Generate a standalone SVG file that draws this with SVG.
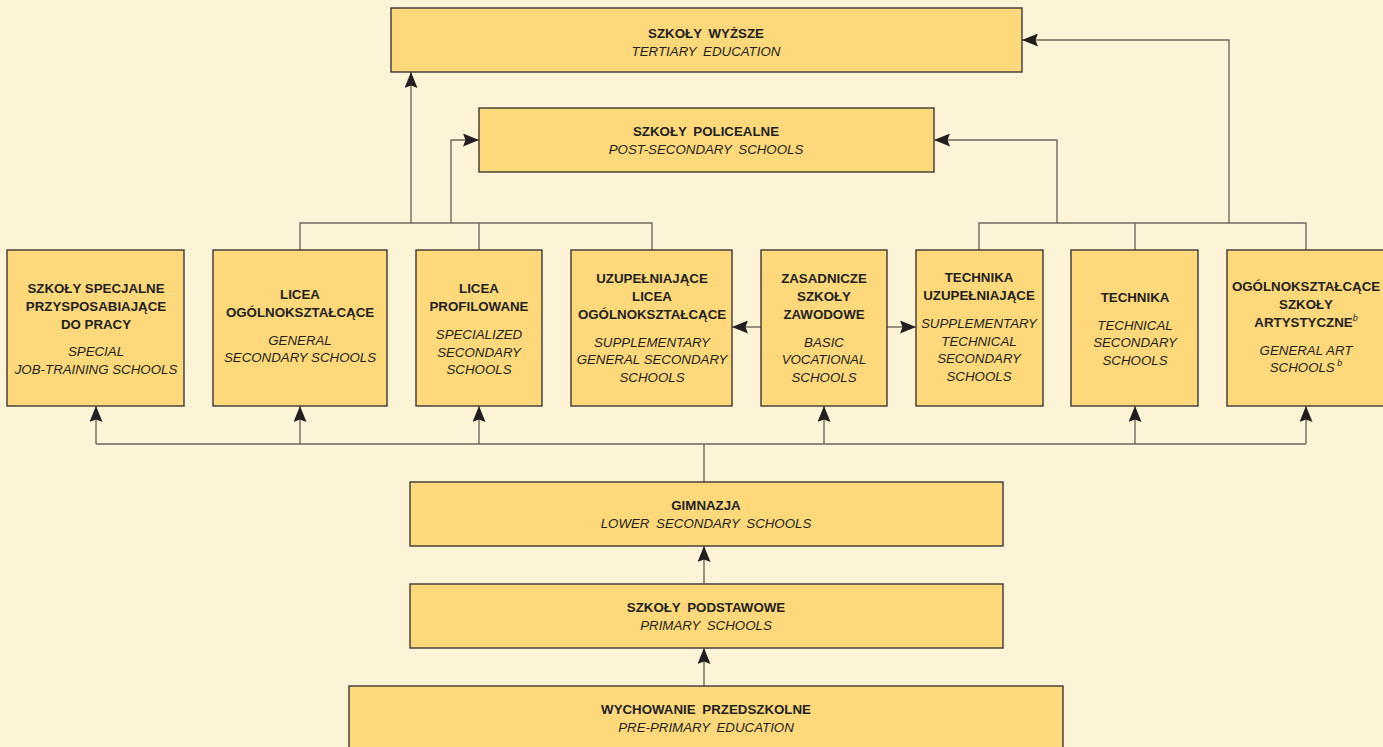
<svg xmlns="http://www.w3.org/2000/svg" width="1383" height="747" viewBox="0 0 1383 747">
<defs>
<style>
.bg{fill:#FDF4D8}
.box{fill:#FED97B;stroke:#3a3835;stroke-width:1.4}
.b{font-family:"Liberation Sans",Arial,sans-serif;font-weight:bold;font-size:13.3px;fill:#231f20;text-anchor:middle}
.i{font-family:"Liberation Sans",Arial,sans-serif;font-style:italic;font-size:13.3px;fill:#231f20;text-anchor:middle}
.ws{word-spacing:3px}
.sup{font-size:9px;font-style:italic;font-weight:normal}
.con{fill:none;stroke:#6f695e;stroke-width:1.4}
.arr{marker-end:url(#ah)}
</style>
<marker id="ah" viewBox="0 0 16 13" refX="16" refY="6.5" markerWidth="16" markerHeight="13" markerUnits="userSpaceOnUse" orient="auto">
<path d="M0,0 L16,6.5 L0,13 L2.5,6.5 z" fill="#231f20"/>
</marker>
</defs>
<rect class="bg" x="0" y="0" width="1383" height="747"/>

<g id="connectors">
<path class="con" d="M704,482 V444"/>
<path class="con" d="M96,444 H1306"/>
<path class="con arr" d="M96,444 V406"/>
<path class="con arr" d="M300,444 V406"/>
<path class="con arr" d="M479,444 V406"/>
<path class="con arr" d="M824,444 V406"/>
<path class="con arr" d="M1135,444 V406"/>
<path class="con arr" d="M1306,444 V406"/>
<path class="con arr" d="M704,584 V546"/>
<path class="con arr" d="M704,686 V648"/>
<path class="con arr" d="M761,327 H732"/>
<path class="con arr" d="M887,327 H916"/>
<path class="con" d="M300,250 V223 H652 V250"/>
<path class="con" d="M479,223 V250"/>
<path class="con arr" d="M411,223 V72"/>
<path class="con arr" d="M451,223 V140 H479"/>
<path class="con" d="M979,250 V223 H1306 V250"/>
<path class="con" d="M1135,223 V250"/>
<path class="con arr" d="M1057,223 V140 H934"/>
<path class="con arr" d="M1229,223 V40 H1022"/>
</g>

<g id="tertiary">
<rect class="box" x="391" y="8" width="631" height="64"/>
<text class="b ws" x="706" y="38">SZKOŁY WYŻSZE</text>
<text class="i ws" x="706" y="56">TERTIARY EDUCATION</text>
</g>

<g id="postsecondary">
<rect class="box" x="479" y="108" width="455" height="64"/>
<text class="b ws" x="706" y="136">SZKOŁY POLICEALNE</text>
<text class="i ws" x="706" y="154">POST-SECONDARY SCHOOLS</text>
</g>

<g id="special">
<rect class="box" x="7" y="250" width="177" height="156"/>
<text class="b" x="96" y="293">SZKOŁY SPECJALNE</text>
<text class="b" x="96" y="311">PRZYSPOSABIAJĄCE</text>
<text class="b" x="96" y="329">DO PRACY</text>
<text class="i" x="96" y="356">SPECIAL</text>
<text class="i" x="96" y="374">JOB-TRAINING SCHOOLS</text>
</g>

<g id="licea-ogolno">
<rect class="box" x="213" y="250" width="174" height="156"/>
<text class="b" x="300" y="299">LICEA</text>
<text class="b" x="300" y="317">OGÓLNOKSZTAŁCĄCE</text>
<text class="i" x="300" y="345">GENERAL</text>
<text class="i" x="300" y="362">SECONDARY SCHOOLS</text>
</g>

<g id="licea-profil">
<rect class="box" x="416" y="250" width="126" height="156"/>
<text class="b" x="479" y="293">LICEA</text>
<text class="b" x="479" y="311">PROFILOWANE</text>
<text class="i" x="479" y="339">SPECIALIZED</text>
<text class="i" x="479" y="357">SECONDARY</text>
<text class="i" x="479" y="374">SCHOOLS</text>
</g>

<g id="uzup-licea">
<rect class="box" x="571" y="250" width="161" height="156"/>
<text class="b" x="652" y="283">UZUPEŁNIAJĄCE</text>
<text class="b" x="652" y="301">LICEA</text>
<text class="b" x="652" y="319">OGÓLNOKSZTAŁCĄCE</text>
<text class="i" x="652" y="347">SUPPLEMENTARY</text>
<text class="i" x="652" y="364">GENERAL SECONDARY</text>
<text class="i" x="652" y="382">SCHOOLS</text>
</g>

<g id="zasadnicze">
<rect class="box" x="761" y="250" width="126" height="156"/>
<text class="b" x="824" y="283">ZASADNICZE</text>
<text class="b" x="824" y="301">SZKOŁY</text>
<text class="b" x="824" y="319">ZAWODOWE</text>
<text class="i" x="824" y="347">BASIC</text>
<text class="i" x="824" y="364">VOCATIONAL</text>
<text class="i" x="824" y="382">SCHOOLS</text>
</g>

<g id="technika-uzup">
<rect class="box" x="916" y="250" width="127" height="156"/>
<text class="b" x="979" y="282">TECHNIKA</text>
<text class="b" x="979" y="300">UZUPEŁNIAJĄCE</text>
<text class="i" x="979" y="328">SUPPLEMENTARY</text>
<text class="i" x="979" y="346">TECHNICAL</text>
<text class="i" x="979" y="363">SECONDARY</text>
<text class="i" x="979" y="381">SCHOOLS</text>
</g>

<g id="technika">
<rect class="box" x="1071" y="250" width="127" height="156"/>
<text class="b" x="1135" y="302">TECHNIKA</text>
<text class="i" x="1135" y="330">TECHNICAL</text>
<text class="i" x="1135" y="347">SECONDARY</text>
<text class="i" x="1135" y="365">SCHOOLS</text>
</g>

<g id="artystyczne">
<rect class="box" x="1227" y="250" width="160" height="156"/>
<text class="b" x="1306" y="291">OGÓLNOKSZTAŁCĄCE</text>
<text class="b" x="1306" y="309">SZKOŁY</text>
<text class="b" x="1306" y="327">ARTYSTYCZNE<tspan class="sup" dy="-6">b</tspan></text>
<text class="i" x="1306" y="355">GENERAL ART</text>
<text class="i" x="1306" y="372">SCHOOLS<tspan class="sup" dy="-6"> b</tspan></text>
</g>

<g id="gimnazja">
<rect class="box" x="410" y="482" width="593" height="64"/>
<text class="b ws" x="706" y="510">GIMNAZJA</text>
<text class="i ws" x="706" y="528">LOWER SECONDARY SCHOOLS</text>
</g>

<g id="podstawowe">
<rect class="box" x="410" y="584" width="593" height="64"/>
<text class="b ws" x="706" y="612">SZKOŁY PODSTAWOWE</text>
<text class="i ws" x="706" y="630">PRIMARY SCHOOLS</text>
</g>

<g id="przedszkolne">
<rect class="box" x="349" y="686" width="714" height="70"/>
<text class="b ws" x="706" y="714">WYCHOWANIE PRZEDSZKOLNE</text>
<text class="i ws" x="706" y="732">PRE-PRIMARY EDUCATION</text>
</g>
</svg>
